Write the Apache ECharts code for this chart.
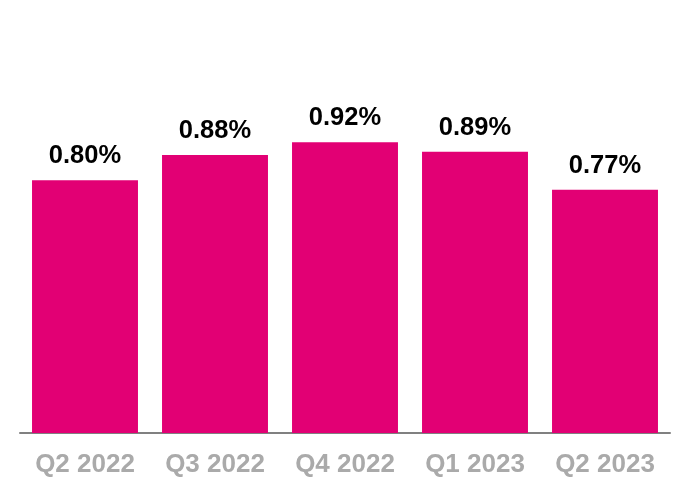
<!DOCTYPE html>
<html><head><meta charset="utf-8">
<script src="https://cdn.jsdelivr.net/npm/echarts@6/dist/echarts.min.js"></script>
<style>html,body{margin:0;padding:0;background:#fff}#c{width:690px;height:500px}</style>
</head><body><div id="c"></div>
<script>
var categories = ['Q2 2022','Q3 2022','Q4 2022','Q1 2023','Q2 2023'];
var values = [0.80, 0.88, 0.92, 0.89, 0.77];
var chart = echarts.init(document.getElementById('c'), null, {renderer:'canvas'});
chart.setOption({
  animation:false,
  grid:{left:20, right:20, top:117, bottom:67},
  xAxis:{type:'category', data:categories,
    axisLine:{lineStyle:{color:'#808080', width:2}},
    axisTick:{show:false},
    axisLabel:{color:'#aaaaaa', fontSize:26, fontWeight:'bold', fontFamily:'Liberation Sans, Arial, sans-serif', margin:19}
  },
  yAxis:{type:'value', min:0, max:1, show:false, splitLine:{show:false}},
  series:[{type:'bar', data:values, barCategoryGap:'18.5%',
    itemStyle:{color:'#E20074'},
    label:{show:true, position:'top', distance:11, color:'#000', fontSize:25.5, fontWeight:'bold',
      fontFamily:'Liberation Sans, Arial, sans-serif',
      formatter:function(p){return p.value.toFixed(2)+'%';}}
  }]
});
</script></body></html>
